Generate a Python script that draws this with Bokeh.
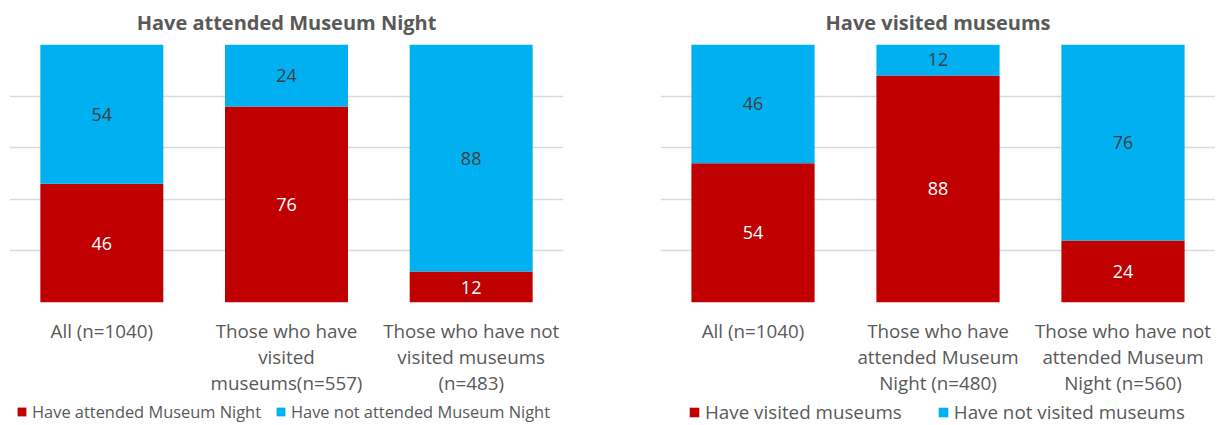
from bokeh.plotting import figure
from bokeh.models import ColumnDataSource, FactorRange, FixedTicker, Legend, LegendItem
from bokeh.layouts import row, column
from bokeh.embed import file_html
from bokeh.resources import INLINE
from bokeh.core.properties import value

RED = "#C00000"
BLUE = "#00B0F0"
GREY = "#595959"
DARK = "#404040"
FONT = "Open Sans"

# ---- data ----
left_title = "Have attended Museum Night"
left_categories = ["All (n=1040)",
                   "Those who have\nvisited\nmuseums(n=557)",
                   "Those who have not\nvisited museums\n(n=483)"]
left_attended = [46, 76, 12]
left_not_attended = [54, 24, 88]
left_series = ["Have attended Museum Night", "Have not attended Museum Night"]

right_title = "Have visited museums"
right_categories = ["All (n=1040)",
                    "Those who have\nattended Museum\nNight (n=480)",
                    "Those who have not\nattended Museum\nNight (n=560)"]
right_visited = [54, 88, 24]
right_not_visited = [46, 12, 76]
right_series = ["Have visited museums", "Have not visited museums"]

y_ticks = [0, 20, 40, 60, 80, 100]

CHART_H = 398
LEG_H = 27


def make_source(cats, a, b):
    total = [x + y for x, y in zip(a, b)]
    return ColumnDataSource(dict(
        cat=cats, a=a, b=b, total=total,
        a_mid=[x / 2 for x in a],
        b_mid=[x + y / 2 for x, y in zip(a, b)],
        a_txt=[str(x) for x in a],
        b_txt=[str(x) for x in b],
    ))


def make_chart(title, cats, src, width, min_left, min_right):
    p = figure(x_range=FactorRange(*cats, range_padding=0), y_range=(0, 100),
               width=width, height=CHART_H,
               min_border_left=min_left, min_border_right=min_right,
               min_border_top=44, min_border_bottom=CHART_H - 304,
               y_axis_location=None,
               output_backend="svg", toolbar_location=None, title=title)
    p.outline_line_color = None
    p.title.align = "center"
    p.title.text_font = FONT
    p.title.text_font_size = "20px"
    p.title.text_font_style = "bold"
    p.title.text_color = GREY
    p.title.standoff = 14
    p.title.vertical_align = "top"

    p.vbar(x="cat", bottom=0, top="a", width=0.666, source=src,
           fill_color=RED, line_color=None)
    p.vbar(x="cat", bottom="a", top="total", width=0.666, source=src,
           fill_color=BLUE, line_color=None)

    p.text(x="cat", y="a_mid", text="a_txt", source=src, text_color="white",
           text_font=value(FONT), text_font_size="18px",
           text_align="center", text_baseline="middle")
    p.text(x="cat", y="b_mid", text="b_txt", source=src, text_color=DARK,
           text_font=value(FONT), text_font_size="18px",
           text_align="center", text_baseline="middle")

    p.xgrid.grid_line_color = None
    p.ygrid.ticker = FixedTicker(ticks=y_ticks)
    p.ygrid.grid_line_color = "#D9D9D9"
    p.ygrid.grid_line_width = 1.5

    ax = p.xaxis[0]
    ax.axis_line_color = None
    ax.major_tick_line_color = None
    ax.minor_tick_line_color = None
    ax.major_label_text_font = FONT
    ax.major_label_text_font_size = "18.8px"
    ax.major_label_text_color = GREY
    ax.major_label_text_line_height = 1.0
    ax.major_label_standoff = 9
    return p


def make_legend(series, cats, src, width, legend_font, legend_x, legend_y,
                spacing, glyph):
    lp = figure(width=width, height=LEG_H, x_range=FactorRange(*cats),
                y_range=(0, 100), min_border=0,
                x_axis_location=None, y_axis_location=None,
                output_backend="svg", toolbar_location=None)
    lp.outline_line_color = None
    lp.grid.grid_line_color = None
    r1 = lp.vbar(x="cat", bottom=0, top="a", width=0.666, source=src,
                 fill_color=RED, line_color=None, visible=False)
    r2 = lp.vbar(x="cat", bottom="a", top="total", width=0.666, source=src,
                 fill_color=BLUE, line_color=None, visible=False)
    legend = Legend(items=[LegendItem(label=series[0], renderers=[r1]),
                           LegendItem(label=series[1], renderers=[r2])],
                    orientation="horizontal", location=(legend_x, legend_y),
                    border_line_color=None, background_fill_alpha=0,
                    inactive_fill_alpha=0,
                    label_text_font=FONT, label_text_font_size=legend_font,
                    label_text_color=GREY, glyph_width=glyph, glyph_height=glyph,
                    label_standoff=5, spacing=spacing, padding=0, margin=0)
    lp.add_layout(legend, "center")
    return lp


src_l = make_source(left_categories, left_attended, left_not_attended)
src_r = make_source(right_categories, right_visited, right_not_visited)

p1 = make_chart(left_title, left_categories, src_l, 610, 9, 47)
p2 = make_chart(right_title, right_categories, src_r, 605, 50, 0)
l1 = make_legend(left_series, left_categories, src_l, 610, "16.4px", 16, 2, 14, 11)
l2 = make_legend(right_series, right_categories, src_r, 605, "18.8px", 78, 0, 35, 12)

layout = column(row(p1, p2, spacing=0), row(l1, l2, spacing=0), spacing=0)
open("out.html", "w").write(file_html(layout, INLINE))
